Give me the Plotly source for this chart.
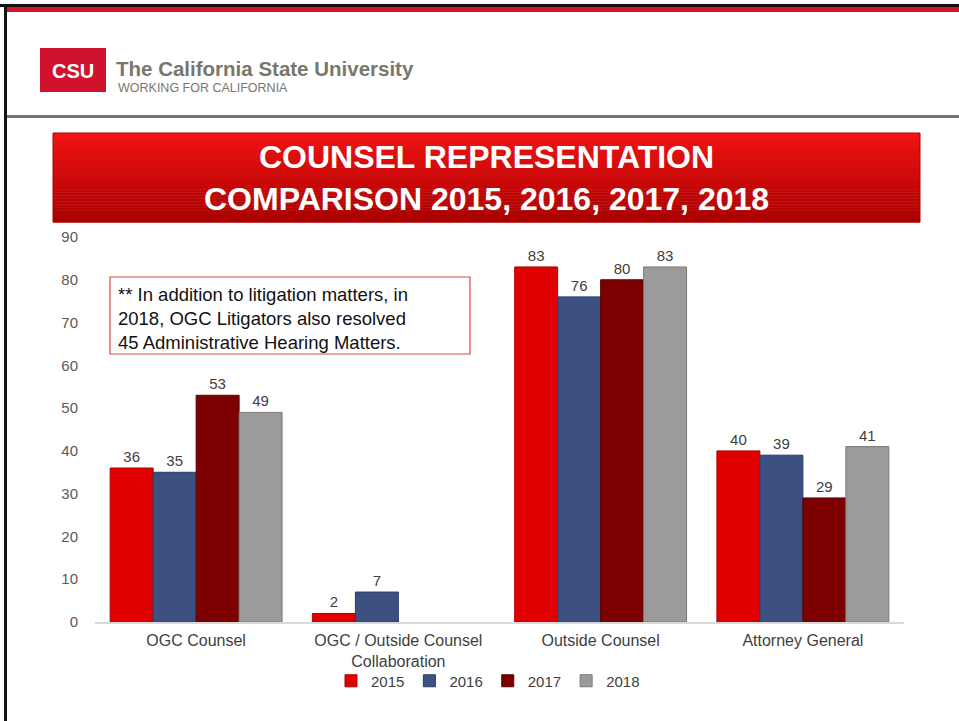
import plotly.graph_objects as go

categories = ["OGC Counsel", "OGC / Outside Counsel<br>Collaboration", "Outside Counsel", "Attorney General"]
years = ["2015", "2016", "2017", "2018"]
v2015 = [36, 2, 83, 40]
v2016 = [35, 7, 76, 39]
v2017 = [53, None, 80, 29]
v2018 = [49, None, 83, 41]

colors = {"2015": "#e00000", "2016": "#3c5082", "2017": "#7c0000", "2018": "#9b9b9b"}
edges = {"2015": "#b00000", "2016": "#2c3c66", "2017": "#5a0000", "2018": "#7a7a7a"}

W, H = 959, 721
L, R, T, B = 95, 904, 237, 622


def px(x):
    return (x - L) / (R - L)


def py(y):
    return (B - y) / (B - T)


fig = go.Figure()
for year, vals in zip(years, [v2015, v2016, v2017, v2018]):
    fig.add_trace(go.Bar(
        x=categories, y=vals, name=year,
        marker=dict(color=colors[year], line=dict(color=edges[year], width=1)),
        text=[str(v) if v is not None else "" for v in vals],
        textposition="outside", cliponaxis=False,
        textfont=dict(size=15, color="#404040"),
    ))


def rect(x0, x1, y0, y1, fill, line=None):
    d = dict(type="rect", xref="paper", yref="paper", x0=px(x0), x1=px(x1), y0=py(y0), y1=py(y1),
             fillcolor=fill, layer="above")
    if line:
        d["line"] = line
    else:
        d["line_width"] = 0
    return d


shapes = []
# page frame
shapes.append(rect(0, W, 4, 7, "#111111"))
shapes.append(rect(5, W, 7, 12, "#d6142c"))
shapes.append(rect(4, 7, 4, H, "#111111"))
shapes.append(rect(7, W, 115, 118, "#78766c"))
# logo box
shapes.append(rect(40, 106, 48, 92, "#d0122c"))
# title banner with a vertical gradient built from thin strips
top, bot = 133, 222
n = 30
c0, c1 = (240, 20, 20), (170, 0, 0)
for i in range(n):
    f = i / (n - 1)
    c = tuple(int(c0[k] + (c1[k] - c0[k]) * f) for k in range(3))
    y0 = top + (bot - top) * i / n
    y1 = top + (bot - top) * (i + 1) / n
    shapes.append(rect(53, 920, y0, y1 + 0.5, "rgb(%d,%d,%d)" % c))
shapes.append(rect(53, 920, top, bot, "rgba(0,0,0,0)", dict(color="#b00000", width=1)))
# note box
shapes.append(rect(110, 470, 277, 354, "white", dict(color="#e04848", width=1.2)))


def note(text, x, y, size, color, xanchor="left", family="Liberation Sans, Arial", align="left"):
    return dict(text=text, x=px(x), y=py(y), xref="paper", yref="paper", xanchor=xanchor, yanchor="middle",
                align=align, showarrow=False, font=dict(family=family, size=size, color=color))


annotations = [
    note("<b>CSU</b>", 73, 71, 20, "white", xanchor="center"),
    note("<b>The California State University</b>", 114, 68, 20.5, "#7a766c"),
    note("WORKING FOR CALIFORNIA", 116, 88, 12.5, "#7a766c"),
    note("<b>COUNSEL REPRESENTATION<br>COMPARISON 2015, 2016, 2017, 2018</b>", 486, 178, 32, "white",
         xanchor="center", align="center"),
    note("** In addition to litigation matters, in<br>2018, OGC Litigators also resolved<br>45 Administrative Hearing Matters.",
         116, 318, 18.5, "#111111"),
]

fig.update_layout(
    width=W, height=H,
    margin=dict(l=L, r=W - R, t=T, b=H - B, pad=0),
    paper_bgcolor="white", plot_bgcolor="white",
    barmode="group", bargap=0.15, bargroupgap=0,
    font=dict(family="Liberation Sans, Arial", size=15, color="#595959"),
    showlegend=True,
    legend=dict(orientation="h", x=px(488), xanchor="center", y=py(681), yanchor="middle",
                bgcolor="rgba(0,0,0,0)", font=dict(size=15, color="#404040"), itemwidth=30,
                traceorder="normal"),
    shapes=shapes,
    annotations=annotations,
)
fig.update_xaxes(showline=True, linecolor="#d9d9d9", linewidth=2, showgrid=False,
                 ticks="outside", ticklen=3, tickcolor="rgba(0,0,0,0)",
                 tickfont=dict(size=16, color="#404040"))
fig.update_yaxes(range=[0, 90], dtick=10, showgrid=False, zeroline=False, showline=False,
                 ticks="outside", ticklen=13, tickcolor="rgba(0,0,0,0)",
                 tickfont=dict(size=15, color="#595959"))

fig.write_html("out.html", config={"displayModeBar": False},
               post_script="document.body.style.margin = '0';")
